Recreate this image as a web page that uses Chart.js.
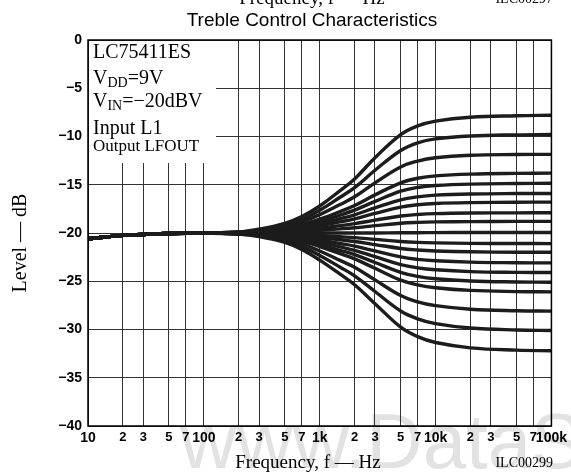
<!DOCTYPE html>
<html>
<head>
<meta charset="utf-8">
<script src="https://cdn.jsdelivr.net/npm/chart.js@4.4.1/dist/chart.umd.min.js"></script>
<style>
  html, body { margin: 0; padding: 0; background: #fff; }
  #wrap { position: relative; width: 571px; height: 475px; }
</style>
</head>
<body>
<div id="wrap"><canvas id="chart"></canvas></div>
<script>
// frequencies (Hz) the curves were read at
const freqs = [10, 20, 30, 50, 100, 200, 300, 500, 700, 1000, 1500, 2000, 3000, 5000, 7000, 10000, 20000, 50000, 100000];

// level (dB) for each treble setting
const boost12 = [-20.6, -20.25, -20.15, -20.05, -20.0, -19.9, -19.6, -19.0, -18.3, -17.2, -15.6, -14.4, -12.2, -9.8, -8.9, -8.4, -8.0, -7.85, -7.8];
const boost10 = [-20.6, -20.25, -20.15, -20.05, -20.0, -19.9, -19.7, -19.2, -18.6, -17.65, -16.3, -15.3, -13.5, -11.45, -10.65, -10.25, -9.95, -9.83, -9.8];
const boost8 = [-20.6, -20.25, -20.15, -20.05, -20.0, -19.92, -19.75, -19.35, -18.85, -18.1, -17.05, -16.25, -14.8, -13.15, -12.55, -12.2, -11.95, -11.87, -11.85];
const boost6 = [-20.6, -20.25, -20.15, -20.05, -20.0, -19.94, -19.8, -19.5, -19.13, -18.57, -17.77, -17.15, -16.05, -14.8, -14.33, -14.08, -13.9, -13.82, -13.8];
const boost5 = [-20.6, -20.25, -20.15, -20.05, -20.0, -19.95, -19.85, -19.59, -19.28, -18.82, -18.15, -17.63, -16.73, -15.67, -15.28, -15.08, -14.93, -14.87, -14.85];
const boost4 = [-20.6, -20.25, -20.15, -20.05, -20.0, -19.96, -19.88, -19.67, -19.43, -19.06, -18.52, -18.11, -17.4, -16.56, -16.25, -16.08, -15.96, -15.91, -15.9];
const boost3 = [-20.6, -20.25, -20.15, -20.05, -20.0, -19.97, -19.9, -19.74, -19.55, -19.26, -18.85, -18.53, -17.97, -17.31, -17.07, -16.94, -16.85, -16.81, -16.8];
const boost2 = [-20.6, -20.25, -20.15, -20.05, -20.0, -19.98, -19.94, -19.83, -19.71, -19.52, -19.24, -19.03, -18.67, -18.24, -18.08, -17.99, -17.93, -17.91, -17.9];
const boost1 = [-20.6, -20.25, -20.15, -20.05, -20.0, -19.99, -19.96, -19.9, -19.83, -19.72, -19.57, -19.45, -19.24, -18.99, -18.9, -18.85, -18.82, -18.8, -18.8];
const flat = [-20.6, -20.25, -20.15, -20.05, -20.0, -20.0, -20.0, -20.0, -20.0, -20.0, -20.0, -20.0, -20.0, -19.98, -19.97, -19.96, -19.95, -19.95, -19.95];
const cut1 = [-20.6, -20.25, -20.15, -20.05, -20.0, -20.01, -20.03, -20.09, -20.15, -20.25, -20.39, -20.48, -20.66, -20.88, -20.97, -21.02, -21.07, -21.09, -21.1];
const cut2 = [-20.6, -20.25, -20.15, -20.05, -20.0, -20.02, -20.06, -20.16, -20.28, -20.46, -20.7, -20.88, -21.2, -21.6, -21.76, -21.86, -21.95, -21.99, -22.0];
const cut3 = [-20.6, -20.25, -20.15, -20.05, -20.0, -20.03, -20.09, -20.25, -20.43, -20.71, -21.09, -21.36, -21.86, -22.48, -22.73, -22.88, -23.02, -23.08, -23.1];
const cut4 = [-20.6, -20.25, -20.15, -20.05, -20.0, -20.04, -20.12, -20.33, -20.57, -20.94, -21.44, -21.8, -22.46, -23.28, -23.61, -23.81, -24.0, -24.08, -24.1];
const cut5 = [-20.6, -20.25, -20.15, -20.05, -20.0, -20.05, -20.15, -20.41, -20.71, -21.17, -21.79, -22.24, -23.06, -24.08, -24.49, -24.74, -24.97, -25.07, -25.1];
const cut6 = [-20.6, -20.25, -20.15, -20.05, -20.0, -20.06, -20.18, -20.49, -20.85, -21.4, -22.14, -22.68, -23.66, -24.88, -25.37, -25.67, -25.95, -26.07, -26.1];
const cut8 = [-20.6, -20.25, -20.15, -20.05, -20.0, -20.08, -20.24, -20.65, -21.13, -21.86, -22.84, -23.56, -24.86, -26.48, -27.13, -27.53, -27.9, -28.06, -28.1];
const cut10 = [-20.6, -20.25, -20.15, -20.05, -20.0, -20.1, -20.3, -20.81, -21.41, -22.32, -23.54, -24.44, -26.06, -28.08, -28.89, -29.39, -29.85, -30.05, -30.1];
const cut12 = [-20.6, -20.25, -20.15, -20.05, -20.0, -20.12, -20.37, -20.98, -21.71, -22.81, -24.27, -25.37, -27.32, -29.76, -30.74, -31.35, -31.9, -32.14, -32.2];

// x axis grid / tick positions and their labels
const xTicks = [10, 20, 30, 50, 70, 100, 200, 300, 500, 700, 1000, 2000, 3000, 5000, 7000, 10000, 20000, 30000, 50000, 70000, 100000];
const xTickLabels = ['10', '2', '3', '5', '7', '100', '2', '3', '5', '7', '1k', '2', '3', '5', '7', '10k', '2', '3', '5', '7', '100k'];
const decades = [10, 100, 1000, 10000, 100000];

const curves = [boost12, boost10, boost8, boost6, boost5, boost4, boost3, boost2, boost1, flat,
  cut1, cut2, cut3, cut4, cut5, cut6, cut8, cut10, cut12];

const datasets = curves.map(c => ({
  data: freqs.map((f, i) => ({ x: f, y: c[i] })),
  borderColor: '#1c1c1c',
  borderWidth: 3.4,
  pointRadius: 0,
  fill: false,
  tension: 0.4,
}));

const serif = '"Liberation Serif", "Times New Roman", serif';
const sans = '"Liberation Sans", Arial, sans-serif';

// text, frame and the condition box around the plot
const decorations = {
  id: 'decorations',
  beforeDraw(chart) {
    const ctx = chart.ctx;
    ctx.save();
    ctx.fillStyle = '#e2e2e2';
    ctx.font = '78px ' + sans;
    ctx.textBaseline = 'alphabetic';
    ctx.fillText('www.DataSheet', 180, 468);
    ctx.restore();
  },
  afterDraw(chart) {
    const ctx = chart.ctx;
    const a = chart.chartArea;
    ctx.save();

    // plot frame
    ctx.strokeStyle = '#000';
    ctx.lineWidth = 1.5;
    ctx.strokeRect(a.left, a.top, a.right - a.left, a.bottom - a.top);

    // white box with test conditions
    ctx.fillStyle = '#fff';
    ctx.fillRect(a.left + 1, a.top + 1, 127, 122);
    ctx.fillStyle = '#000';
    ctx.textAlign = 'left';
    ctx.textBaseline = 'alphabetic';
    const x0 = a.left + 5;
    ctx.font = '20px ' + serif;
    ctx.fillText('LC75411ES', x0, 58);

    let x = x0;
    ctx.fillText('V', x, 84); x += ctx.measureText('V').width;
    ctx.font = '14px ' + serif;
    ctx.fillText('DD', x, 87); x += ctx.measureText('DD').width;
    ctx.font = '20px ' + serif;
    ctx.fillText('=9V', x, 84);

    x = x0;
    ctx.fillText('V', x, 107); x += ctx.measureText('V').width;
    ctx.font = '14px ' + serif;
    ctx.fillText('IN', x, 110); x += ctx.measureText('IN').width;
    ctx.font = '20px ' + serif;
    ctx.fillText('=\u221220dBV', x, 107);

    ctx.fillText('Input L1', x0, 134);
    ctx.font = '17px ' + serif;
    ctx.fillText('Output LFOUT', x0, 151);

    // titles
    ctx.textAlign = 'center';
    ctx.font = '19px ' + sans;
    ctx.fillText('Treble Control Characteristics', 312, 26);
    ctx.font = '19px ' + serif;
    ctx.fillText('Frequency, f \u2014 Hz', 308, 468);
    ctx.fillText('Frequency, f \u2014 Hz', 312, 4);

    ctx.textAlign = 'right';
    ctx.font = '14px ' + serif;
    ctx.fillText('ILC00299', 553, 467);
    ctx.fillText('ILC00297', 553, 3);

    // y axis title
    ctx.translate(26, 243);
    ctx.rotate(-Math.PI / 2);
    ctx.textAlign = 'center';
    ctx.font = '20px ' + serif;
    ctx.fillText('Level \u2014 dB', 0, 0);
    ctx.restore();
  }
};

new Chart(document.getElementById('chart'), {
  type: 'line',
  data: { datasets },
  plugins: [decorations],
  options: {
    responsive: true,
    maintainAspectRatio: false,
    animation: false,
    layout: { padding: { top: 40, right: 17, left: 0, bottom: 0 } },
    plugins: {
      legend: { display: false },
      tooltip: { enabled: false },
      title: { display: false },
    },
    scales: {
      x: {
        type: 'logarithmic',
        min: 10,
        max: 100000,
        afterBuildTicks: scale => { scale.ticks = xTicks.map(v => ({ value: v })); },
        afterFit: scale => { scale.height = 49; },
        grid: { color: '#333', lineWidth: 1, drawTicks: false },
        border: { display: false },
        ticks: {
          autoSkip: false,
          maxRotation: 0,
          minRotation: 0,
          padding: 4,
          color: '#000',
          font: ctx => ({
            family: sans,
            weight: 'bold',
            size: ctx.tick && decades.includes(ctx.tick.value) ? 14 : 13,
          }),
          callback: (value, index) => xTickLabels[index],
        },
      },
      y: {
        min: -40,
        max: 0,
        afterFit: scale => { scale.width = 88; },
        grid: { color: '#333', lineWidth: 1, drawTicks: false },
        border: { display: false },
        ticks: {
          stepSize: 5,
          padding: 6,
          color: '#000',
          font: { family: sans, weight: 'bold', size: 14 },
          callback: v => (v < 0 ? '\u2212' + Math.abs(v) : String(v)),
        },
      },
    },
  },
});
</script>
</body>
</html>
